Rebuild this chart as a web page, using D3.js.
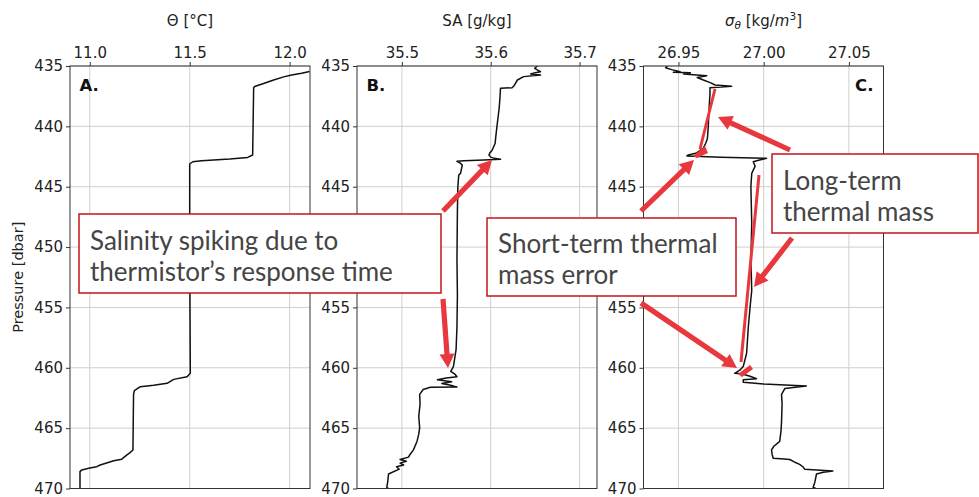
<!DOCTYPE html>
<html><head><meta charset="utf-8">
<script src="https://cdn.jsdelivr.net/npm/d3@7"></script>
<style>body{margin:0;background:#fff}svg{display:block}</style>
</head><body>
<script>
// ---- Data (pressure [dbar], value) ----
const pressureA = [435.45,435.6,435.75,435.9,436.16,436.45,436.7,436.8,442.37,442.57,442.7,442.85,442.93,443.12,450,460.46,460.74,460.96,461.29,461.45,461.57,461.9,462.2,466.81,467.05,467.22,467.57,467.7,468.05,468.19,468.3,468.46,468.6,470];
const theta =     [12.10,12.06,12.01,11.97,11.92,11.87,11.825,11.82,11.815,11.79,11.70,11.56,11.515,11.50,11.50,11.503,11.487,11.42,11.387,11.32,11.253,11.223,11.219,11.216,11.20,11.186,11.16,11.12,11.052,11.035,11.0,10.96,10.951,10.951];

const pressureB = [435.0,435.19,435.35,435.47,435.55,435.66,435.75,435.88,436.16,436.66,436.8,436.85,437.5,438.5,440.0,441.0,441.4,441.96,442.2,442.37,442.55,442.65,442.73,442.79,442.84,442.9,443.0,443.2,443.9,444.03,445,447,451,454,456.6,458.5,459.9,460.3,460.55,460.74,460.85,461.0,461.15,461.3,461.45,461.6,461.62,461.8,462.2,463,464,464.97,465.5,466.1,466.8,467.2,467.4,467.55,467.6,467.75,467.9,468.05,468.2,468.4,468.8,469.5,469.9,470.0];
const salinity =  [35.6525,35.6495,35.653,35.656,35.650,35.645,35.656,35.637,35.630,35.626,35.624,35.611,35.6105,35.6095,35.607,35.6055,35.605,35.6017,35.599,35.598,35.600,35.604,35.611,35.592,35.570,35.562,35.565,35.568,35.566,35.564,35.563,35.5625,35.562,35.5625,35.562,35.561,35.558,35.555,35.560,35.562,35.550,35.540,35.556,35.545,35.555,35.562,35.532,35.524,35.520,35.5205,35.519,35.520,35.519,35.517,35.513,35.509,35.5075,35.500,35.498,35.505,35.498,35.502,35.494,35.497,35.485,35.484,35.483,35.485];

const pressureC = [435.0,435.15,435.3,435.47,435.52,435.55,435.66,435.8,435.95,436.16,436.4,436.57,436.68,436.75,436.8,437.3,438.5,440,441.0,441.4,441.8,442.2,442.37,442.45,442.55,442.65,442.8,442.93,443.3,443.9,445,448,451,453.6,455,456.6,458.8,459.9,460.2,460.46,460.5,460.7,460.9,461.0,461.2,461.35,461.5,461.72,462.2,463,464.4,465.2,466.1,466.5,466.8,467.2,467.5,467.55,467.6,467.8,468.0,468.2,468.4,468.55,468.65,468.8,469.5,469.9,470.0];
const sigma =     [26.9435,26.9425,26.946,26.951,26.947,26.957,26.953,26.9666,26.961,26.9646,26.969,26.9715,26.9812,26.975,26.9685,26.9685,26.968,26.9675,26.967,26.966,26.9646,26.9607,26.9558,26.955,26.975,27.0017,26.997,26.9939,26.995,26.993,26.9925,26.993,26.9925,26.993,26.992,26.991,26.990,26.988,26.986,26.983,26.987,26.992,26.9958,26.988,26.988,27.00,27.025,27.0124,27.0105,27.0108,27.0105,27.0102,27.0094,27.006,27.0046,27.005,27.0056,27.012,27.0153,27.018,27.0211,27.023,27.024,27.0406,27.035,27.031,27.030,27.029,27.0305];

const pressureTicks = [435,440,445,450,455,460,465,470];
const thetaTicks = [11.0,11.5,12.0];
const salinityTicks = [35.5,35.6,35.7];
const sigmaTicks = [26.95,27.00,27.05];
const panelLetters = ["A.","B.","C."];

const annotationTexts = [
  ["Salinity spiking due to","thermistor\u2019s response time"],
  ["Short-term thermal","mass error"],
  ["Long-term","thermal mass"]
];

// ---- Layout ----
const W = 979, H = 497;
const yTop = 66, yBottom = 488.5, pw = 240;
const panels = [
  {x0:70,    domain:[10.901,12.102],  ticks:thetaTicks,    fmt:d3.format(".1f"), p:pressureA, v:theta,    letter:0, letterRight:false},
  {x0:357,   domain:[35.4495,35.7196],ticks:salinityTicks, fmt:d3.format(".1f"), p:pressureB, v:salinity, letter:1, letterRight:false},
  {x0:643.5, domain:[26.9295,27.0703],ticks:sigmaTicks,    fmt:d3.format(".2f"), p:pressureC, v:sigma,    letter:2, letterRight:true}
];
const boxes = [
  {x:79, y:214, w:362, h:79, tx:90, ty:[250,281]},
  {x:487,y:218, w:249, h:78, tx:498,ty:[253,284]},
  {x:772,y:154, w:206, h:79, tx:783,ty:[190,221]}
];

const svg = d3.select("body").append("svg").attr("width",W).attr("height",H)
  .style("font-family","'DejaVu Sans', sans-serif");

const y = d3.scaleLinear().domain([435,470]).range([yTop,yBottom]);

panels.forEach((P,i)=>{
  const x = d3.scaleLinear().domain(P.domain).range([P.x0,P.x0+pw]);
  P.x = x;
  const g = svg.append("g");
  g.selectAll(".gx").data(P.ticks).join("line")
    .attr("x1",d=>x(d)).attr("x2",d=>x(d)).attr("y1",yTop).attr("y2",yBottom)
    .attr("stroke","#cfcfcf").attr("stroke-width",1);
  g.selectAll(".gy").data(pressureTicks).join("line")
    .attr("x1",P.x0).attr("x2",P.x0+pw).attr("y1",d=>y(d)).attr("y2",d=>y(d))
    .attr("stroke","#cfcfcf").attr("stroke-width",1);
  const ax = d3.axisTop(x).tickValues(P.ticks).tickFormat(P.fmt).tickSize(4).tickPadding(4);
  const gx = g.append("g").attr("transform",`translate(0,${yTop})`).call(ax);
  const ay = d3.axisLeft(y).tickValues(pressureTicks).tickSize(4).tickPadding(3);
  const gy = g.append("g").attr("transform",`translate(${P.x0},0)`).call(ay);
  [gx,gy].forEach(a=>{
    a.select(".domain").remove();
    a.selectAll("text").attr("font-size",15).attr("fill","#222").attr("font-family","'DejaVu Sans', sans-serif");
    a.selectAll("line").attr("stroke","#333");
  });
  // tick labels that lie beneath an annotation box are hidden by it (as in the original)
  gy.selectAll(".tick").each(function(d){
    const ty = y(d), tx = P.x0 - 20;
    if (boxes.some(b=>tx>b.x && tx<b.x+b.w && ty>b.y && ty<b.y+b.h)) d3.select(this).select("text").remove();
  });
  const data = P.p.map((p,k)=>[P.v[k],p]);
  g.append("clipPath").attr("id","clip"+i).append("rect")
    .attr("x",P.x0).attr("y",yTop).attr("width",pw).attr("height",yBottom-yTop);
  g.append("path").datum(data).attr("clip-path",`url(#clip${i})`)
    .attr("d",d3.line().x(d=>x(d[0])).y(d=>y(d[1])))
    .attr("fill","none").attr("stroke","#111").attr("stroke-width",1.5).attr("stroke-linejoin","round");
  g.append("rect").attr("x",P.x0).attr("y",yTop).attr("width",pw).attr("height",yBottom-yTop)
    .attr("fill","none").attr("stroke","#333").attr("stroke-width",1);
  g.append("text").text(panelLetters[P.letter])
    .attr("x",P.letterRight? P.x0+pw-10 : P.x0+9.5).attr("y",91)
    .attr("text-anchor",P.letterRight?"end":"start")
    .attr("font-size",16.5).attr("font-weight","bold").attr("fill","#111");
});

const cx = i=>panels[i].x0+pw/2;
svg.append("text").attr("x",cx(0)).attr("y",26).attr("text-anchor","middle").attr("font-size",15).attr("fill","#222").text("\u0398 [\u00b0C]");
svg.append("text").attr("x",cx(1)).attr("y",26).attr("text-anchor","middle").attr("font-size",15).attr("fill","#222").text("SA [g/kg]");
const t3 = svg.append("text").attr("x",cx(2)).attr("y",26).attr("text-anchor","middle").attr("font-size",15).attr("fill","#222");
t3.append("tspan").attr("font-style","italic").text("\u03c3");
t3.append("tspan").attr("font-style","italic").attr("font-size",10.5).attr("dy",3).text("\u03b8");
t3.append("tspan").attr("dy",-3).text(" [kg/");
t3.append("tspan").attr("font-style","italic").text("m");
t3.append("tspan").attr("font-size",10.5).attr("dy",-6).text("3");
t3.append("tspan").attr("dy",6).text("]");

svg.append("text").attr("transform",`translate(23,${(yTop+yBottom)/2}) rotate(-90)`)
  .attr("text-anchor","middle").attr("font-size",14.5).attr("fill","#222").text("Pressure [dbar]");

// ---- Annotation overlay ----
const red = "#e8383d", boxRed = "#c3151c";
const ann = svg.append("g");
const drift = [[[715,89],[700,149]],[[759,175],[741,362]]];
drift.forEach(l=>ann.append("line").attr("x1",l[0][0]).attr("y1",l[0][1]).attr("x2",l[1][0]).attr("y2",l[1][1])
  .attr("stroke",red).attr("stroke-width",3));
const blobs = [[[705,146],[708,153],[697,158],[693,156]],[[750,365],[753,369],[742,377],[738,374]]];
blobs.forEach(b=>ann.append("polygon").attr("points",b.map(p=>p.join(",")).join(" ")).attr("fill",red));

function arrow(x1,y1,x2,y2){
  const dx=x2-x1, dy=y2-y1, L=Math.hypot(dx,dy), ux=dx/L, uy=dy/L, nx=-uy, ny=ux;
  const hl=14, hw=7.5, sw=2.6;
  const bx=x2-ux*hl, by=y2-uy*hl;
  const pts=[[x1+nx*sw,y1+ny*sw],[bx+nx*sw,by+ny*sw],[bx+nx*hw,by+ny*hw],[x2,y2],[bx-nx*hw,by-ny*hw],[bx-nx*sw,by-ny*sw],[x1-nx*sw,y1-ny*sw]];
  ann.append("polygon").attr("points",pts.map(p=>p.join(",")).join(" ")).attr("fill",red);
}
arrow(443,211,492,160);
arrow(443,299,448,368);
arrow(790,150,718,117);
arrow(641,211,694,160);
arrow(792,238,754,287);
arrow(641,303,737,368);

boxes.forEach((b,i)=>{
  ann.append("rect").attr("x",b.x).attr("y",b.y).attr("width",b.w).attr("height",b.h)
    .attr("fill","#fff").attr("stroke",boxRed).attr("stroke-width",1.5);
  annotationTexts[i].forEach((t,k)=>ann.append("text").attr("x",b.tx).attr("y",b.ty[k])
    .attr("font-family","Lato, sans-serif").attr("font-size",26).attr("fill","#454545").text(t));
});
</script>
</body></html>
